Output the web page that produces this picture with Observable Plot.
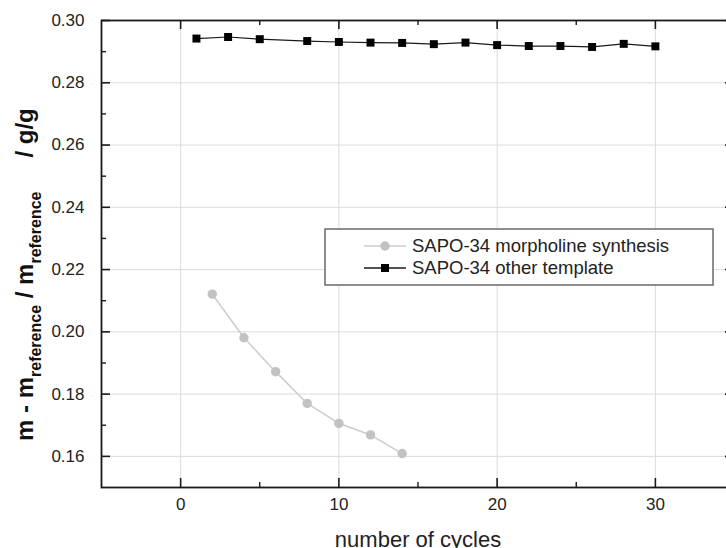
<!DOCTYPE html>
<html>
<head>
<meta charset="utf-8">
<script src="https://cdn.jsdelivr.net/npm/d3@7"></script>
<script src="https://cdn.jsdelivr.net/npm/@observablehq/plot@0.6"></script>
<style>
  html, body { margin: 0; padding: 0; background: #fff; overflow: hidden; }
  #wrap { width: 726px; height: 548px; overflow: hidden; position: relative; }
  #wrap svg { max-width: none !important; }
</style>
</head>
<body>
<div id="wrap"></div>
<script>
// ---- data ----
const morphCycles = [2, 4, 6, 8, 10, 12, 14];
const morphValues = [0.2121, 0.1981, 0.1872, 0.1770, 0.1706, 0.1669, 0.1609];

const otherCycles = [1, 3, 5, 8, 10, 12, 14, 16, 18, 20, 22, 24, 26, 28, 30];
const otherValues = [0.2942, 0.2947, 0.2940, 0.2934, 0.2931, 0.2929, 0.2928, 0.2924,
                     0.2929, 0.2921, 0.2918, 0.2918, 0.2915, 0.2925, 0.2917];

const seriesNames = ["SAPO-34 morpholine synthesis", "SAPO-34 other template"];
const xMajor = [0, 10, 20, 30];
const xMinor = [5, 15, 25];
const yMajor = [0.16, 0.18, 0.20, 0.22, 0.24, 0.26, 0.28, 0.30];
const yMinor = [0.17, 0.19, 0.21, 0.23, 0.25, 0.27, 0.29];
const yGrid = [0.16, 0.18, 0.20, 0.22, 0.24, 0.26, 0.28];
const xTitle = "number of cycles";

const morph = morphCycles.map((c, i) => ({cycle: c, value: morphValues[i]}));
const other = otherCycles.map((c, i) => ({cycle: c, value: otherValues[i]}));

const W = 736, H = 548;
const mL = 101, mR = 2, mT = 20, mB = 61;
const innerW = W - mL - mR, innerH = H - mT - mB;
const major = 9, minor = 5;
const ink = "#1a1a1a";
const grayLine = "#cdcdcd", grayDot = "#c2c2c2";
const FONT = "'Liberation Sans', Arial, sans-serif";

const chart = Plot.plot({
  width: W, height: H,
  marginLeft: mL, marginRight: mR, marginTop: mT, marginBottom: mB,
  style: {fontFamily: FONT, background: "#fff", color: "#333", maxWidth: "none"},
  x: {domain: [-5, 35]},
  y: {domain: [0.15, 0.30]},
  marks: [
    Plot.gridX(xMajor, {stroke: "#dcdcdc", strokeOpacity: 1}),
    Plot.gridY(yGrid, {stroke: "#dcdcdc", strokeOpacity: 1}),
    // inward ticks on all four sides
    Plot.tickX(xMajor, {x: d => d, insetTop: innerH - major, stroke: ink, strokeWidth: 1.6}),
    Plot.tickX(xMinor, {x: d => d, insetTop: innerH - minor, stroke: ink, strokeWidth: 1.4}),
    Plot.tickX(xMajor, {x: d => d, insetBottom: innerH - major, stroke: ink, strokeWidth: 1.6}),
    Plot.tickX(xMinor, {x: d => d, insetBottom: innerH - minor, stroke: ink, strokeWidth: 1.4}),
    Plot.tickY(yMajor, {y: d => d, insetRight: innerW - major, stroke: ink, strokeWidth: 1.6}),
    Plot.tickY(yMinor, {y: d => d, insetRight: innerW - minor, stroke: ink, strokeWidth: 1.4}),
    Plot.tickY(yMajor, {y: d => d, insetLeft: innerW - major, stroke: ink, strokeWidth: 1.6}),
    Plot.tickY(yMinor, {y: d => d, insetLeft: innerW - minor, stroke: ink, strokeWidth: 1.4}),
    Plot.axisX(xMajor, {tickSize: 0, tickPadding: 10, fontSize: 17, fill: "#222", label: null, tickFormat: d => String(d)}),
    Plot.axisY(yMajor, {tickSize: 0, tickPadding: 17, fontSize: 17, fill: "#222", label: null, tickFormat: d3.format(".2f")}),
    Plot.frame({stroke: ink, strokeWidth: 1.8}),
    Plot.line(morph, {x: "cycle", y: "value", stroke: grayLine, strokeWidth: 1.6}),
    Plot.dot(morph, {x: "cycle", y: "value", r: 4.7, fill: grayDot, stroke: "none"}),
    Plot.line(other, {x: "cycle", y: "value", stroke: ink, strokeWidth: 1.2}),
    Plot.dot(other, {x: "cycle", y: "value", symbol: "square", r: 4.5, fill: "#000", stroke: "none"}),
    Plot.text([xTitle], {frameAnchor: "bottom", lineAnchor: "bottom", dy: 59, fontSize: 22, fill: "#222"})
  ]
});

const svg = d3.select(chart);
svg.style("overflow", "hidden");

// y-axis title with subscripts
const yl = svg.append("text")
  .attr("transform", "translate(33,441) rotate(-90)")
  .attr("text-anchor", "start")
  .attr("font-family", FONT)
  .attr("font-weight", "bold")
  .attr("font-size", 24)
  .attr("fill", "#111")
  .style("white-space", "pre");
yl.append("tspan").text("m - m");
yl.append("tspan").attr("font-size", 16).attr("dy", 8).text("reference");
yl.append("tspan").attr("dy", -8).text(" / m");
yl.append("tspan").attr("font-size", 16).attr("dy", 8).text("reference");
yl.append("tspan").attr("dy", -8).attr("dx", 34).text("/ g/g");

// legend
const lg = svg.append("g").attr("font-family", FONT).attr("text-anchor", "start");
lg.append("rect").attr("x", 325).attr("y", 229).attr("width", 388).attr("height", 56)
  .attr("fill", "#fff").attr("stroke", "#6a6a6a").attr("stroke-width", 1.5);
const rows = [
  {y: 246, line: grayLine, dot: grayDot, sym: "circle"},
  {y: 268, line: ink, dot: "#000", sym: "square"}
];
rows.forEach((r, i) => {
  lg.append("line").attr("x1", 364).attr("x2", 406).attr("y1", r.y).attr("y2", r.y)
    .attr("stroke", r.line).attr("stroke-width", 1.6);
  if (r.sym === "circle") {
    lg.append("circle").attr("cx", 385).attr("cy", r.y).attr("r", 4.7).attr("fill", r.dot);
  } else {
    lg.append("rect").attr("x", 381).attr("y", r.y - 4).attr("width", 8).attr("height", 8).attr("fill", r.dot);
  }
  lg.append("text").attr("x", 412).attr("y", r.y).attr("dy", "0.35em")
    .attr("font-size", 18.5).attr("fill", "#222").text(seriesNames[i]);
});

document.getElementById("wrap").appendChild(chart);
</script>
</body>
</html>
